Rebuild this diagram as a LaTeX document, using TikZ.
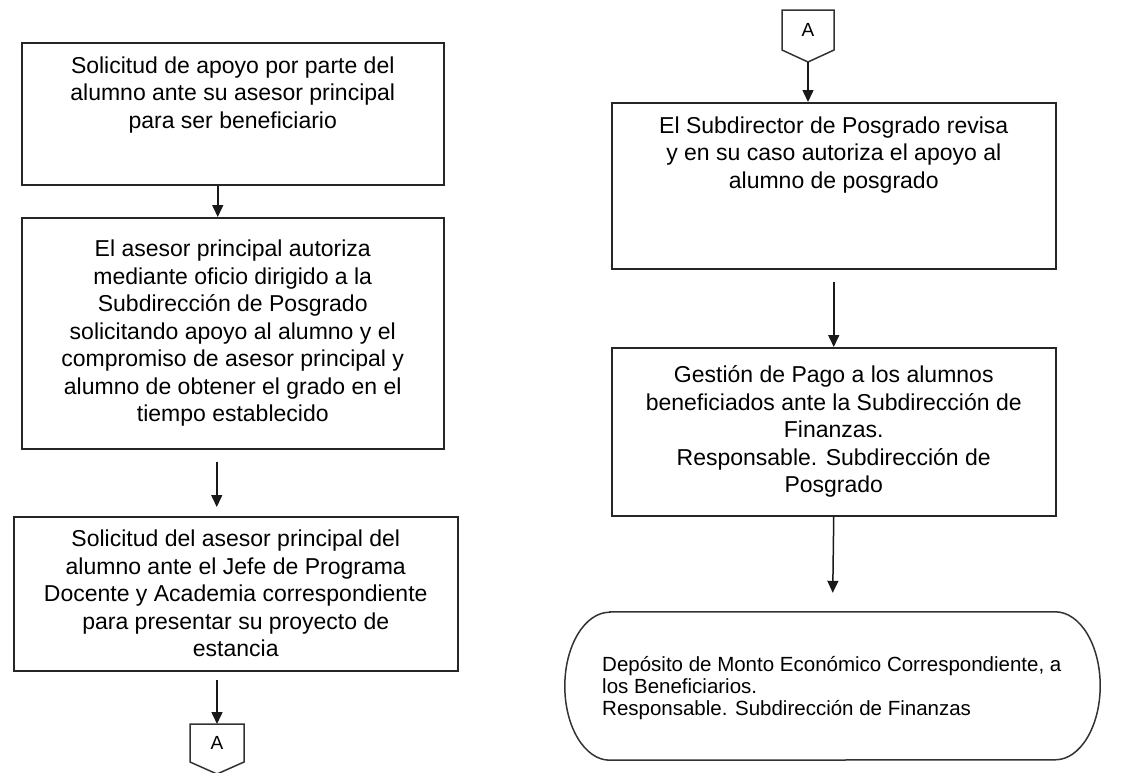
\documentclass[tikz,border=0pt]{standalone}
\usepackage{fontspec}
\setmainfont{Liberation Sans}
\usetikzlibrary{arrows.meta,calc}
\tikzset{
  box/.style={draw=black!85, line width=1.5pt, inner sep=0pt, anchor=north west},
  flow/.style={-{Triangle[length=12pt,width=11pt]}, line width=1.5pt, draw=black!90},
  conn/.style={draw=black!80, line width=1.5pt, line join=miter},
  boxfont/.style={font=\fontsize{23}{27.5}\selectfont},
  endfont/.style={font=\fontsize{20.5}{22}\selectfont}
}
\newcommand{\topbox}[3]{\parbox[c][#2pt][t]{#1pt}{\centering\vspace*{14pt}#3\par}}
\newcommand{\midbox}[3]{\parbox[c][#2pt][c]{#1pt}{\centering #3\par}}
\begin{document}
\begin{tikzpicture}[x=1pt,y=-1pt]
\useasboundingbox (0,0) rectangle (1125,772);
% left column
\node[box,boxfont] (b1) at (21,42) {\topbox{422}{142}{Solicitud de apoyo por parte del\\alumno ante su asesor principal\\para ser beneficiario}};
\node[box,boxfont] (b2) at (21,217) {\midbox{422}{231}{El asesor principal autoriza\\mediante oficio dirigido a la\\Subdirección de Posgrado\\solicitando apoyo al alumno y el\\compromiso de asesor principal y\\alumno de obtener el grado en el\\tiempo establecido}};
\node[box,boxfont] (b3) at (13,516) {\midbox{444}{154}{Solicitud del asesor principal del\\alumno ante el Jefe de Programa\\Docente y Academia correspondiente\\para presentar su proyecto de\\estancia}};
% connector A (bottom left)
\coordinate (cAtop) at (217,724);
\draw[conn] (190,724) -- (244,724) -- (244,762) -- (217,774) -- (190,762) -- cycle;
\node[font=\fontsize{19}{22}\selectfont] (cA) at (217,743) {A};
% right column
\coordinate (cBbot) at (808,62);
\draw[conn] (782,10) -- (834,10) -- (834,50) -- (808,62) -- (782,50) -- cycle;
\node[font=\fontsize{19}{22}\selectfont] (cB) at (808,30) {A};
\node[box,boxfont] (b4) at (611,102) {\topbox{444}{166}{El Subdirector de Posgrado revisa\\y en su caso autoriza el apoyo al\\alumno de posgrado}};
\node[box,boxfont] (b5) at (611,347) {\midbox{444}{168}{Gestión de Pago a los alumnos\\beneficiados ante la Subdirección de\\Finanzas.\\Responsable. Subdirección de\\Posgrado}};
% terminal
\node[minimum width=535pt, minimum height=148pt, inner sep=0pt] (end) at (832.5,686) {};
\draw[conn] ($(end.north west)+(45,0)$) -- ($(end.north east)+(-45,0)$)
  arc[start angle=-90, end angle=90, x radius=45, y radius=74]
  -- ($(end.south west)+(45,0)$)
  arc[start angle=90, end angle=270, x radius=45, y radius=74] -- cycle;
\node[endfont, anchor=west, align=left, inner sep=0pt] (endtext) at (602,688) {Depósito de Monto Económico Correspondiente, a\\los Beneficiarios.\\Responsable. Subdirección de Finanzas};
% arrows
\draw[flow] ([xshift=-15pt]b1.south) -- ([xshift=-15pt]b2.north);
\draw[flow, shorten <=12pt, shorten >=9pt] ([xshift=-16pt]b2.south) -- ([xshift=-16pt]b2.south |- b3.north);
\draw[flow, shorten <=8pt] (cAtop |- b3.south) -- (cAtop);
\draw[flow] (cBbot) -- (cBbot |- b4.north);
\draw[flow, shorten <=12pt] (b4.south) -- (b5.north);
\draw[flow, shorten >=19pt] (b5.south) -- (end.north);
\end{tikzpicture}
\end{document}
